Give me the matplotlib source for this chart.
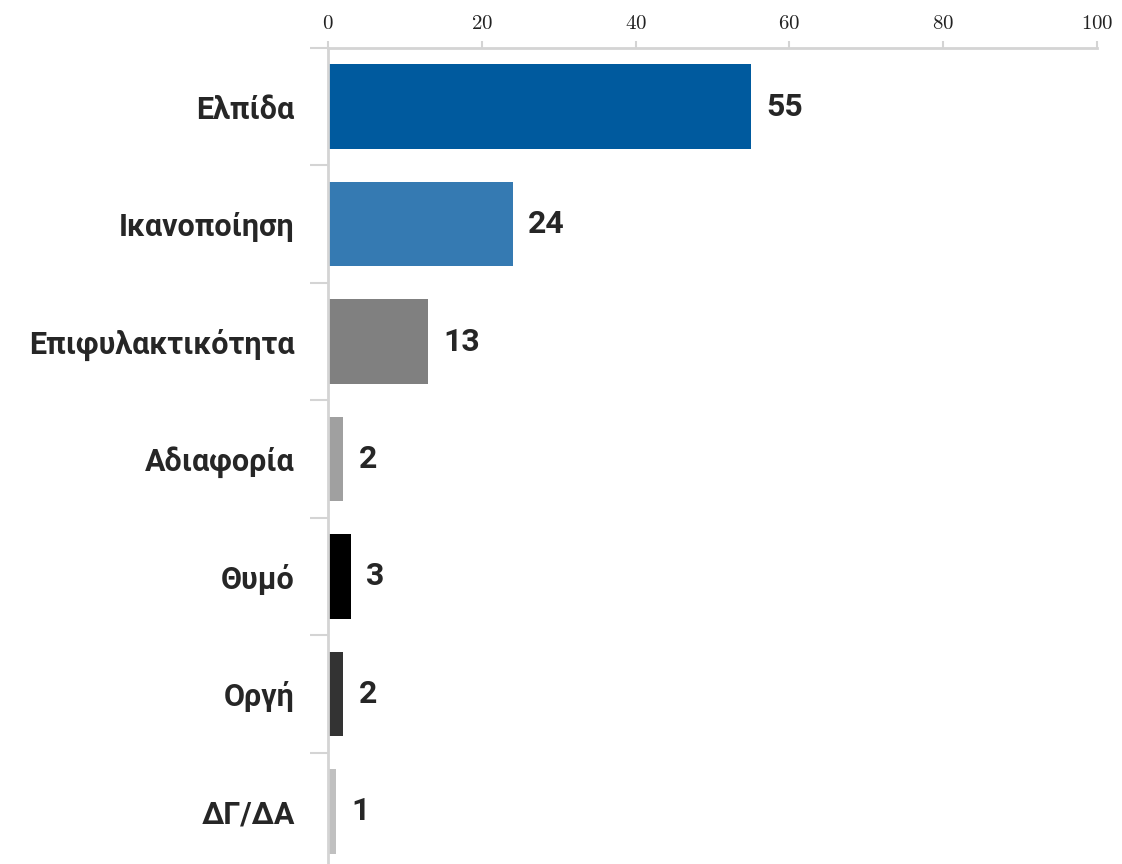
import numpy as np
import matplotlib
matplotlib.use("Agg")
import matplotlib.pyplot as plt

plt.rcParams["mathtext.fontset"] = "cm"

categories = ["Ελπίδα", "Ικανοποίηση", "Επιφυλακτικότητα", "Αδιαφορία", "Θυμό", "Οργή", "ΔΓ/ΔΑ"]
values = [55, 24, 13, 2, 3, 2, 1]
colors = ["#005a9e", "#357ab2", "#808080", "#a0a0a0", "#000000", "#333333", "#c0c0c0"]
xticks = [0, 20, 40, 60, 80, 100]

label_font = ["Roboto", "DejaVu Sans"]
text_color = "#262626"
axis_color = "#d4d4d4"

fig = plt.figure(figsize=(11.22, 8.64), dpi=100)
ax = fig.add_axes([0.2923, -0.0069, 0.6854, 0.9514])

y = np.arange(len(categories))
ax.barh(y, values, height=0.72, color=colors)

# value labels next to each bar
for yi, v in zip(y, values):
    ax.text(v + 2.0, yi, str(v), va="center", ha="left", fontsize=23,
            fontweight="bold", family=label_font, color=text_color)

ax.set_xlim(0, 100)
ax.set_ylim(len(categories) - 0.5, -0.5)

ax.xaxis.set_ticks_position("top")
ax.set_xticks(xticks)
ax.set_xticklabels([r"$%d$" % t for t in xticks])
ax.tick_params(axis="x", direction="out", length=5, width=1.5, color=axis_color,
               labelsize=15, pad=6, labelcolor="#222222")

ax.set_yticks(y)
ax.set_yticklabels(categories, fontsize=22, fontweight="bold", family=label_font,
                   color=text_color)
ax.set_yticks(np.arange(len(categories) + 1) - 0.5, minor=True)
ax.tick_params(axis="y", which="major", length=0, pad=24)
ax.tick_params(axis="y", which="minor", length=13, width=1.5, color=axis_color)

for s in ["right", "bottom"]:
    ax.spines[s].set_visible(False)
for s in ["top", "left"]:
    ax.spines[s].set_color(axis_color)
    ax.spines[s].set_linewidth(2)

fig.savefig("out.png", dpi=100)
